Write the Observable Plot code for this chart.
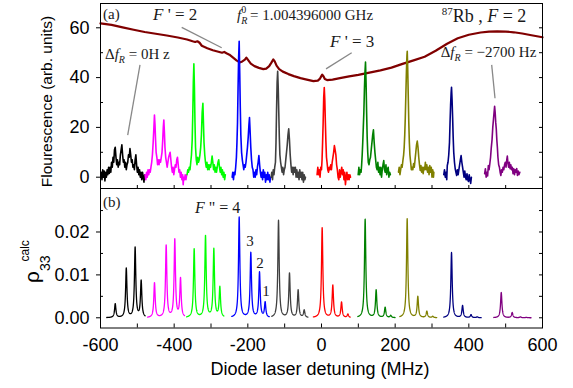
<!DOCTYPE html>
<html><head>
<meta charset="utf-8">
<script src="https://cdn.jsdelivr.net/npm/d3@7"></script>
<script src="https://cdn.jsdelivr.net/npm/@observablehq/plot@0.6"></script>
<style>
body{margin:0;background:#fff;}
#fig{position:relative;width:573px;height:388px;overflow:hidden;background:#fff;}
#fig svg{position:absolute;left:0;}
</style>
</head><body><div id="fig"></div>
<script>
// ---------------- data ----------------
const traceColors = ["#000000","#ff00ff","#00ff00","#0000ff","#404040","#ff0000","#008000","#808000","#000080","#800080"];

// measured fluorescence traces (detuning MHz, fluorescence arb. units)
const expBlack = [[-598,2],[-596,-1],[-594,3],[-592,0],[-590,2.5],[-588,-1.5],[-586,2],[-584,0],[-582,3],[-580,1],[-578,4],[-576,1.5],[-574,4],[-572,2],[-570,6],[-568,4],[-566,8],[-564,6],[-562,11],[-560,12],[-558,8],[-556,5],[-554,7],[-552,4],[-550,6],[-548,5],[-546,9],[-544,11],[-542,13],[-540,9],[-538,6],[-536,7],[-534,4],[-532,6],[-530,3],[-528,5],[-526,6],[-524,9],[-522,8],[-520,11.5],[-518,9],[-516,6],[-514,7],[-512,4],[-510,5],[-508,3],[-506,7],[-504,9],[-502,5],[-500,2],[-498,4],[-496,1],[-494,3],[-492,0],[-490,2],[-488,-1],[-486,2],[-484,0],[-482,-2],[-480,1],[-479,0]];
const expMagenta = [[-479,1],[-477,-1],[-475,2],[-473,0],[-471,3],[-469,1],[-467,3],[-465,2],[-463,4],[-461,6],[-459,9],[-457,14],[-455,20],[-453.5,25],[-452,21],[-450.5,15],[-449,10],[-447,8],[-445,5],[-443,7],[-441,5],[-439,7],[-437,6],[-435,8],[-433,10],[-431,15],[-429.5,20],[-428,23],[-426.5,18],[-425,12],[-423,8],[-421,6],[-419,4],[-417,6],[-415,8],[-413,9],[-411,10],[-409,7],[-407,4],[-405,2],[-403,4],[-401,1],[-399,3],[-397,5],[-395,4],[-393,7],[-391,8],[-389,5],[-387,2],[-385,3],[-383,0],[-381,2],[-379,-1],[-377,1],[-375.5,-3],[-374,0],[-372,-1],[-370,1],[-368,-1],[-366,1]];
const expLime = [[-365,1],[-363,3],[-361,2],[-359,4],[-357,3],[-355,6],[-353,9],[-351,15],[-349.5,25],[-348,38],[-346.5,45.5],[-345,36],[-343.5,22],[-342,12],[-340,7],[-338,5],[-336,8],[-334,6],[-332,7],[-330,9],[-328,12],[-326,17],[-324,26],[-322,29.7],[-320.5,22],[-319,14],[-317,9],[-315,6],[-313,4],[-311,6],[-309,3],[-307,5],[-305,3],[-303,5],[-301,4],[-299,6],[-297,8.5],[-295,6],[-293,3],[-291,5],[-289,2],[-287,4],[-285,2],[-283,4],[-281,6],[-279,7],[-277,4],[-275,2],[-273,4],[-271,1],[-269,3],[-267,0],[-265,2],[-263,-1],[-261,1]];
const expBlue = [[-242.5,0],[-241,2],[-239,-1],[-237,2],[-235,1],[-233,4],[-231,8],[-229.5,14],[-228,22],[-226.5,36],[-225,48],[-223.5,54.6],[-222,42],[-220.5,28],[-219,17],[-217,10],[-215,7],[-213,5],[-211,3],[-209,5],[-207,4],[-205,6],[-203,9],[-201,12],[-199,16],[-197,21],[-195.5,24],[-194,19],[-192,12],[-190,7],[-188,4],[-186,3],[-184,0],[-182,2],[-180,0],[-178,3],[-176,1],[-174,4],[-172,6],[-170,8.7],[-168,5],[-166,2],[-164,0],[-162,2],[-160,-1],[-158,3],[-156,0],[-154,2],[-152,-2],[-150,1],[-148,-1],[-146,2],[-144,-1],[-142,1],[-140,-2],[-138.5,0]];
const expGray = [[-136.6,0],[-135,2],[-133,-1],[-131,3],[-129,1],[-127,4],[-125,6],[-123.5,14],[-122,27],[-120.5,38],[-119,42.5],[-117.5,36],[-116,26],[-114.5,16],[-113,9],[-111,6],[-109,4],[-107,2],[-105,4],[-103,1],[-101,3],[-99,4],[-97,7],[-95,10],[-93,13],[-91,17],[-89,19.4],[-87,15],[-85,9],[-83,5],[-81,2],[-79,4],[-77,1],[-75,4],[-73,2],[-71,4],[-69,0],[-67,3],[-65,0],[-63,2],[-61,-1],[-59,3],[-57,0],[-55,2],[-53,-1],[-51,2],[-49,-2],[-47,1],[-45,-1],[-43.5,0]];
const expRed = [[-12,1],[-10,4],[-8,1],[-6,3],[-4,0],[-2,4],[0,3],[1.5,7],[3,14],[4.5,22],[6,32],[7.5,36],[9,31],[10.5,22],[12,14],[13.5,8],[15,6],[17,3],[19,2],[21,4],[23,3],[25,5],[27,3],[29,6],[31,8],[33,10],[35,12.7],[37,11],[39,9],[41,5],[43,3],[45,0],[47,-1],[49,3],[51,0],[53,2],[55,4],[57,1],[59,3],[61,-1],[63,2],[65,-3],[67,0],[69,2],[71,-1],[73,1],[75,-1],[77,1],[78.7,0]];
const expGreen = [[99.6,1],[101.5,4],[103.5,1],[105.5,3],[107.5,2],[109,5],[110.5,9],[112,14],[113.5,20],[115,26],[116.5,35],[118,42],[119.5,46.2],[121,38],[122.5,26],[124,16],[125.5,10],[127,6],[129,5],[131,7],[133,8],[135,11],[137,14],[139,17],[141,19],[143,14],[145,10],[147,7],[149,4],[151,3],[153,6],[155,2],[157,4],[159,1],[161,4],[163,0],[165,3],[167,5],[169,6.7],[171,3],[173,2],[175,5],[177,1],[179,3],[181,4],[183,0],[185,2],[187,1]];
const expOlive = [[209,2],[211,4],[213,1],[215,3],[217,5],[219,4],[221,6.7],[223,9],[224.5,12],[226,17],[227.5,24],[229,33],[230.5,42],[232,49],[232.8,50.6],[234,44],[235.5,33],[237,22],[238.5,14],[240,9],[242,6],[244,3],[246,4],[248,3],[250,5.5],[252,4],[254,7],[256,10],[258,13],[260,14.5],[262,12],[264,8],[266,5],[268,2.7],[270,4.7],[272,2],[274,4],[276,1.4],[278,4],[280,3],[282,6],[284,3],[286,5],[288,2],[290,4],[292,1],[294,4.7],[296,2],[298,4],[300,0],[302,3],[304,0],[305,2]];
const expNavy = [[332,1],[334,3],[336,0],[338,2],[340,-1],[341.5,4.7],[343.5,6],[345.5,9],[347.5,14],[349,22],[350.5,29],[352,34],[353,36.1],[354.5,31],[356,24],[357.5,16],[359,10],[361,6],[363,3.4],[365,2],[367,0.7],[369,3],[371,1],[373,3],[375,5],[377,7],[379,8.7],[381,6],[383,4],[385,2],[387,0],[389,2.5],[391,0],[393,-1],[395,1.4],[397,-1],[399,-1.7],[401,1],[403,-1],[405,-2.5],[407,0]];
const expPurple = [[443,1.4],[445,3.4],[447,0],[449,2],[451,0.5],[453,4.7],[455,3],[457,5.4],[459,8],[461,12],[463,15],[465,20],[467,23.4],[468.5,26],[470,28.5],[471.5,26],[473,22],[474.5,19.4],[476,15],[477.5,12],[479,8],[481,5],[483,4],[485,2],[487,0.7],[489,3],[491,2],[493,4],[495,3],[497,5],[499,6],[501,4],[503,7],[504.5,8.5],[506,6],[508,4],[510,6],[512,3.4],[514,5],[516,3],[518,4],[520,1.4],[522,3.4],[524,1],[526,3],[528,2],[530,3.5],[532,0.7],[534,2.5],[536,1],[538.4,2]];
const expTraces = [expBlack, expMagenta, expLime, expBlue, expGray, expRed, expGreen, expOlive, expNavy, expPurple];

// broad Doppler background (maroon)
const bgDetuning = [-600,-570,-540,-510,-480,-450,-420,-390,-365,-350,-343,-337,-331,-325,-310,-295,-280,-270,-264,-258,-250,-240,-230,-222,-215,-208,-204,-199,-192,-182,-170,-158,-150,-142,-136,-131,-127,-122,-115,-105,-90,-75,-57,-40,-22,-10,-4,0,2,5,9,15,30,50,75,100,130,160,190,220,250,280,310,341,370,400,432,455,477,500,522,545,570,600];
const bgFluor = [61.8,61.2,60.2,59.2,58.3,57.6,56.9,56.1,55.3,54.6,54.3,54.6,54.0,52.8,51.8,51.0,50.4,50.0,50.3,49.8,49.2,48.0,46.8,46.1,46.5,47.2,48.0,47.0,45.6,44.6,43.9,43.4,43.6,44.6,46.0,47.3,46.5,44.8,43.4,42.4,41.4,40.6,39.8,39.2,38.6,38.8,39.6,40.7,41.2,40.6,39.4,39.0,39.2,39.8,40.5,41.1,42.0,42.9,44.0,45.5,46.9,48.4,50.8,53.6,55.8,57.2,58.1,58.5,58.6,58.5,58.2,57.7,57.0,56.2];

// calculated rho33 spectra: per segment range, line centres (F''=4,3,2,1) and peak heights
const calcStart = [-583,-472,-366,-243.5,-135,-22,98.6,212.6,332,467.8];
const calcEnd = [-479,-372,-265,-142,-37,78,200,313,433.5,569];
const calcCenters = [[-560,-530,-506,-489.6],[-453.4,-421.7,-398.3,-382.8],[-345.7,-314.9,-292.3,-276],[-223.5,-191.9,-168.3,-153],[-116.7,-86.9,-63.4,-47],[1.8,30.7,54.4,71.6],[118.5,148.4,172.8,188],[232.6,261.5,286,302],[353,383,406,422.7],[488,517.7,540,556]];
const calcHeights = [[0.0032,0.01145,0.0163,0.0085],[0.0081,0.0168,0.0181,0.0090],[0.0160,0.0190,0.0159,0.0070],[0.0234,0.0151,0.0105,0.0035],[0.0227,0.0103,0.0064,0.0017],[0.0210,0.0075,0.0036,0.0008],[0.0230,0.0064,0.0024,0.0005],[0.0231,0.0049,0.0015,0.0003],[0.0152,0.0028,0.0007,0.0002],[0.0059,0.0012,0.0002,0.0001]];
const lineHalfWidth = 2.2; // MHz, Lorentzian HWHM of calculated lines

// ticks
const xTicks = [-600,-400,-200,0,200,400,600];
const xAllTicks = [-600,-500,-400,-300,-200,-100,0,100,200,300,400,500,600];
const yTicksA = [0,20,40,60];
const yMinorA = [10,30,50];
const yTicksB = [0,0.01,0.02];
const yMinorB = [0.005,0.015,0.025];

// texts
const xTitle = "Diode laser detuning (MHz)";
const yTitleA = "Flourescence (arb. units)";

// ---------------- layout ----------------
const SANS = "'Liberation Sans', Arial, Helvetica, sans-serif";
const SERIF = "'Liberation Serif', 'Times New Roman', serif";
const W = 573, ML = 100, MR = 31;
const xDomain = [-600, 600];
const yDomainA = [-4.54, 69.76];
const yDomainB = [-0.00238, 0.03014];
const HA = 190, MTA = 3, MBA = 2;
const HB = 200, MTB = 0, MBB = 60.5, TOPB = 188;
const FW = W - ML - MR;

const bgTable = bgDetuning.map((x,i)=>({x, y:bgFluor[i]}));

const calcTables = calcStart.map((s,i)=>{
  const rows = [];
  for (let x = s; x <= calcEnd[i] + 1e-9; x += 0.25) {
    let y = 0;
    calcCenters[i].forEach((c,j)=>{ y += calcHeights[i][j] / (1 + ((x - c)/lineHalfWidth)**2); });
    rows.push({x, y});
  }
  return rows;
});

const topPlot = Plot.plot({
  width: W, height: HA, marginLeft: ML, marginRight: MR, marginTop: MTA, marginBottom: MBA,
  x: {domain: xDomain, axis: null},
  y: {domain: yDomainA, axis: null},
  style: {fontFamily: SANS, fontSize: "18px", background: "none", overflow: "visible", color: "#000"},
  marks: [
    Plot.line(bgTable, {x: "x", y: "y", stroke: "#800000", strokeWidth: 2.2}),
    ...expTraces.map((t,i)=>Plot.line(t, {x: d=>d[0], y: d=>d[1], stroke: traceColors[i], strokeWidth: 1.6})),
    Plot.frame({stroke: "#000", strokeWidth: 1}),
    Plot.axisY(yTicksA, {anchor: "left", tickSize: 4, tickPadding: 7, fontSize: 18, label: null, tickFormat: d=>String(d)}),
    Plot.tickY(yMinorA, {y: d=>d, insetRight: FW - 3, stroke: "#000"}),
    Plot.tickY(yTicksA.concat(yMinorA), {y: d=>d, insetLeft: FW - 3, stroke: "#000"}),
    Plot.tickX(xAllTicks, {x: d=>d, insetTop: (HA - MTA - MBA) - 3, stroke: "#000"})
  ]
});

const botPlot = Plot.plot({
  width: W, height: HB, marginLeft: ML, marginRight: MR, marginTop: MTB, marginBottom: MBB,
  x: {domain: xDomain, axis: null},
  y: {domain: yDomainB, axis: null},
  style: {fontFamily: SANS, fontSize: "18px", background: "none", overflow: "visible", color: "#000"},
  marks: [
    ...calcTables.map((t,i)=>Plot.line(t, {x: "x", y: "y", stroke: traceColors[i], strokeWidth: 1.3})),
    Plot.frame({stroke: "#000", strokeWidth: 1}),
    Plot.axisY(yTicksB, {anchor: "left", tickSize: 4, tickPadding: 7, fontSize: 18, label: null, tickFormat: d=>d.toFixed(2)}),
    Plot.tickY(yMinorB, {y: d=>d, insetRight: FW - 3, stroke: "#000"}),
    Plot.tickY(yTicksB.concat(yMinorB), {y: d=>d, insetLeft: FW - 3, stroke: "#000"}),
    Plot.tickX(xAllTicks, {x: d=>d, insetTop: (HB - MTB - MBB) - 4, stroke: "#000"}),
    Plot.axisX(xTicks, {anchor: "bottom", tickSize: 0, tickPadding: 10, fontSize: 18, label: null, tickFormat: d=>String(d)})
  ]
});

const fig = document.getElementById("fig");
topPlot.style.top = "0px";
botPlot.style.top = TOPB + "px";
fig.appendChild(topPlot);
fig.appendChild(botPlot);

// scales mirroring the plots
const sx = d3.scaleLinear(xDomain, [ML, W - MR]);
const syA = d3.scaleLinear(yDomainA, [HA - MBA, MTA]);
const syB = d3.scaleLinear(yDomainB, [HB - MBB, MTB]);

function rich(svg, x, y, runs, {size = 15, anchor = "start", family = SERIF, rotate = 0, fill = "#1a1a1a"} = {}) {
  const t = d3.select(svg).append("text")
    .attr("x", x).attr("y", y).attr("font-family", family).attr("font-size", size)
    .attr("text-anchor", anchor).attr("fill", fill);
  if (rotate) t.attr("transform", `rotate(${rotate},${x},${y})`);
  for (const r of runs) {
    const s = t.append("tspan").text(r.t);
    if (r.i) s.attr("font-style", "italic");
    if (r.s) s.attr("font-size", r.s);
    if (r.dy) s.attr("dy", r.dy);
    if (r.dx) s.attr("dx", r.dx);
  }
  return t;
}
function pointer(svg, x1, y1, x2, y2, sy) {
  d3.select(svg).append("line")
    .attr("x1", sx(x1)).attr("y1", sy(y1)).attr("x2", sx(x2)).attr("y2", sy(y2))
    .attr("stroke", "#888").attr("stroke-width", 1.3);
}

// top panel annotations
rich(topPlot, sx(-591.8), syA(63.3), [{t: "(a)"}], {size: 15});
rich(topPlot, sx(-456), syA(62.9), [{t: "F", i: true}, {t: " ' = 2"}], {size: 17});
pointer(topPlot, -378.2, 60, -269.6, 51.8, syA);
rich(topPlot, sx(-228), syA(62.9), [
  {t: "f", i: true}, {t: "R", i: true, s: 10, dy: 4}, {t: "0", s: 10, dx: -6, dy: -11},
  {t: " = 1.004396000 GHz", dy: 7}], {size: 15});
rich(topPlot, sx(327.7), syA(62.1), [
  {t: "87", s: 11, dy: -7}, {t: "Rb , ", dy: 7}, {t: "F", i: true}, {t: " = 2"}], {size: 18});
rich(topPlot, sx(24.4), syA(52.1), [{t: "F", i: true}, {t: " ' = 3"}], {size: 17});
pointer(topPlot, 83.3, 49.8, 13.6, 43.3, syA);
rich(topPlot, sx(325), syA(48.1), [
  {t: "Δ"}, {t: "f", i: true}, {t: "R", i: true, s: 10, dy: 4}, {t: " = −2700 Hz", dy: -4}], {size: 15});
pointer(topPlot, 463.4, 44.9, 472.4, 31.5, syA);
rich(topPlot, sx(-586.4), syA(47.3), [
  {t: "Δ"}, {t: "f", i: true}, {t: "R", i: true, s: 10, dy: 4}, {t: " = 0H z", dy: -4}], {size: 15});
pointer(topPlot, -491.4, 44.9, -524.8, 16.7, syA);
rich(topPlot, 51.5, 101.5, [{t: yTitleA}], {size: 15.5, family: SANS, anchor: "middle", rotate: -90, fill: "#000"});

// bottom panel annotations
rich(botPlot, sx(-591.8), syB(0.0257), [{t: "(b)"}], {size: 15});
rich(botPlot, sx(-342), syB(0.0242), [{t: "F", i: true}, {t: " \" = 4"}], {size: 16});
rich(botPlot, sx(-192.8), syB(0.01652), [{t: "3"}], {size: 15, anchor: "middle"});
rich(botPlot, sx(-165.6), syB(0.01149), [{t: "2"}], {size: 15, anchor: "middle"});
rich(botPlot, sx(-149.3), syB(0.0050), [{t: "1"}], {size: 15, anchor: "middle"});
rich(botPlot, 38.5, 95, [{t: "ρ", s: 21}, {t: "33", s: 14, dy: 11}, {t: "calc", s: 12, dx: -6, dy: -21}], {size: 21, family: SANS, rotate: -90, fill: "#000"});
rich(botPlot, 320, 187, [{t: xTitle}], {size: 18, family: SANS, anchor: "middle", fill: "#000"});
</script></body></html>
